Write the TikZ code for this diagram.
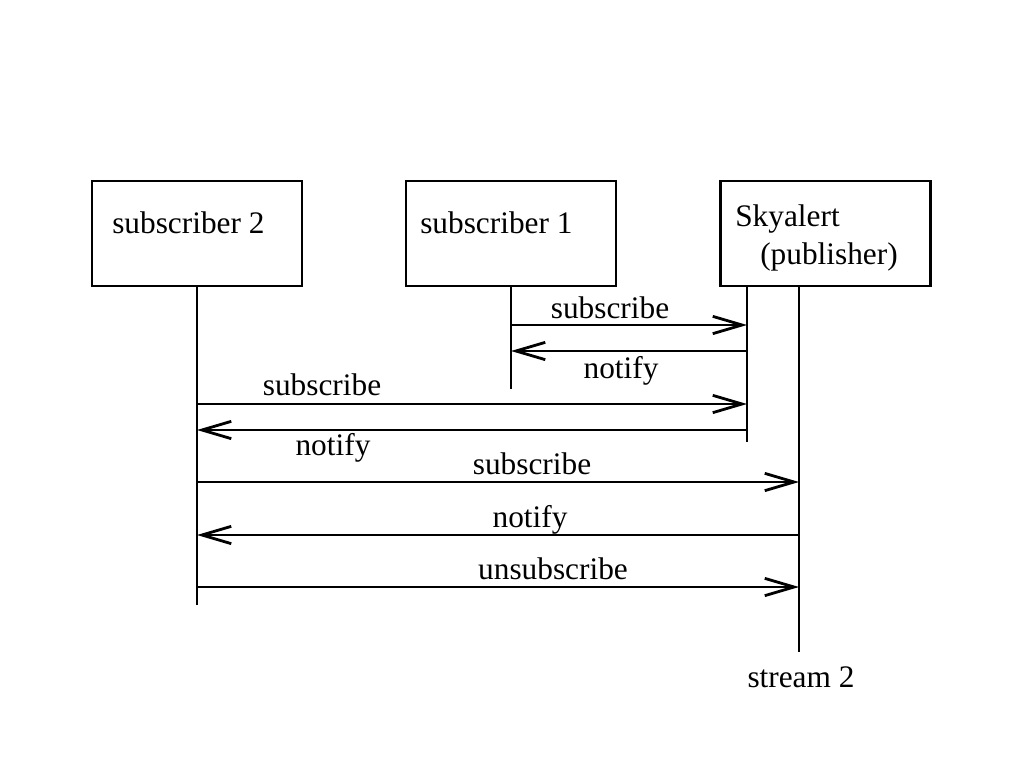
\documentclass[tikz,border=0pt]{standalone}
\usepackage{fontspec}
\setmainfont{Liberation Serif}
\usetikzlibrary{arrows.meta}
\begin{document}
\begin{tikzpicture}[x=0.75pt,y=-0.75pt,
  every node/.style={font=\fontsize{23.5}{27}\selectfont, inner sep=0pt},
  objbox/.style={draw, line width=1.6pt, minimum width=157.5pt, minimum height=78.75pt, inner sep=0pt},
  lifeline/.style={line width=1.6pt},
  msg/.style={line width=1.6pt, -{Straight Barb[length=22pt,width=13pt,line width=2.1pt]}},
  lbl/.style={anchor=base}]
\useasboundingbox (0,0) rectangle (1024,768);
% boxes
\node[objbox] (s2) at (197,233.5) {};
\node[objbox] (s1) at (511,233.5) {};
\node[objbox] (sky) at (825.5,233.5) {};
\node[anchor=base west] (t2) at (112,233) {subscriber 2};
\node[anchor=base west] (t1) at (420,233) {subscriber 1};
\node[anchor=base west] (tsky) at (735,226) {Skyalert};
\node[anchor=base west] (tpub) at (760,264) {(publisher)};
% lifeline tops and bottoms
\coordinate (l2top) at (197,286);
\coordinate (l2bot) at (197,605);
\coordinate (l1top) at (511,286);
\coordinate (l1bot) at (511,389);
\coordinate (lptop) at (747,286);
\coordinate (lpbot) at (747,442);
\coordinate (lstop) at (799,286);
\coordinate (lsbot) at (799,652);
\draw[lifeline] (l2top) -- (l2bot);
\draw[lifeline] (l1top) -- (l1bot);
\draw[lifeline] (lptop) -- (lpbot);
\draw[lifeline] (lstop) -- (lsbot);
\node[anchor=base] (st2) at (801,687) {stream 2};
% message end points
\coordinate (a1) at (511,325); \coordinate (b1) at (747,325);
\coordinate (a2) at (511,351); \coordinate (b2) at (747,351);
\coordinate (a3) at (197,404); \coordinate (b3) at (747,404);
\coordinate (a4) at (197,430); \coordinate (b4) at (747,430);
\coordinate (a5) at (197,482); \coordinate (b5) at (799,482);
\coordinate (a6) at (197,535); \coordinate (b6) at (799,535);
\coordinate (a7) at (197,587); \coordinate (b7) at (799,587);
\draw[msg] (a1) -- (b1);
\draw[msg] (b2) -- (a2);
\draw[msg] (a3) -- (b3);
\draw[msg] (b4) -- (a4);
\draw[msg] (a5) -- (b5);
\draw[msg] (b6) -- (a6);
\draw[msg] (a7) -- (b7);
% labels
\node[lbl] (m1) at (610,318) {subscribe};
\node[lbl] (m2) at (621,378) {notify};
\node[lbl] (m3) at (322,395) {subscribe};
\node[lbl] (m4) at (333,455) {notify};
\node[lbl] (m5) at (532,474) {subscribe};
\node[lbl] (m6) at (530,527) {notify};
\node[lbl] (m7) at (553,579) {unsubscribe};
\end{tikzpicture}
\end{document}
